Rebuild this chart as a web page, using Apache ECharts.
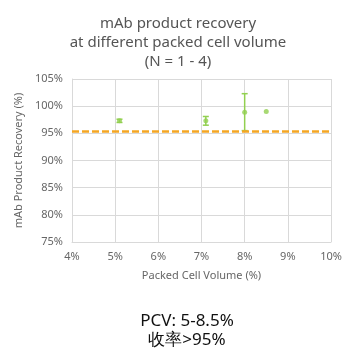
<!DOCTYPE html>
<html><head><meta charset="utf-8">
<script src="https://cdn.jsdelivr.net/npm/echarts@6/dist/echarts.min.js"></script>
<style>html,body{margin:0;padding:0;background:#fff}#c{width:356px;height:357px}</style>
</head><body><div id="c"></div>
<script>
const titleLines = ['mAb product recovery', 'at different packed cell volume', '(N = 1 - 4)'];
const pcv = [5.1, 7.1, 8.0, 8.5];
const recovery = [97.3, 97.3, 98.9, 99.0];
const errPlusMinus = [0.3, 0.8, 3.4, 0];
const threshold = 95.3;
const xTicks = [4, 5, 6, 7, 8, 9, 10];
const yTicks = [75, 80, 85, 90, 95, 100, 105];
const note = ['PCV: 5-8.5%', '收率>95%'];

const green = '#92d050';
const chart = echarts.init(document.getElementById('c'), null, {renderer: 'canvas'});
const pts = pcv.map((x, i) => [x, recovery[i]]);
const errs = pcv.map((x, i) => [x, recovery[i] - errPlusMinus[i], recovery[i] + errPlusMinus[i]]);
chart.setOption({
  animation: false,
  title: [{
    text: titleLines.join('\n'), left: 'center', top: 9,
    textStyle: {fontFamily: 'Noto Sans', fontSize: 15, fontWeight: 'normal', color: '#555', lineHeight: 19}
  }, {
    text: note.join('\n'), left: 182, textAlign: 'center', top: 307,
    textStyle: {fontFamily: 'Noto Sans', fontSize: 17, fontWeight: 'normal', color: '#111', lineHeight: 19}
  }],
  grid: {left: 72, right: 25, top: 79, bottom: 115},
  xAxis: {
    type: 'value', min: xTicks[0], max: xTicks[xTicks.length - 1], interval: 1,
    name: 'Packed Cell Volume (%)', nameLocation: 'middle', nameGap: 28,
    nameTextStyle: {fontFamily: 'Noto Sans', fontSize: 11, color: '#666'},
    axisLine: {show: true, lineStyle: {color: '#d9d9d9'}}, axisTick: {show: false},
    axisLabel: {fontFamily: 'Noto Sans', fontSize: 11, color: '#666', margin: 9, formatter: v => v + '%'},
    splitLine: {show: true, lineStyle: {color: '#d9d9d9'}}
  },
  yAxis: {
    type: 'value', min: yTicks[0], max: yTicks[yTicks.length - 1], interval: 5,
    name: 'mAb Product Recovery (%)', nameLocation: 'middle', nameGap: 38,
    nameTextStyle: {fontFamily: 'Noto Sans', fontSize: 11, color: '#666'},
    axisLine: {show: true, lineStyle: {color: '#d9d9d9'}}, axisTick: {show: false},
    axisLabel: {fontFamily: 'Noto Sans', fontSize: 11, color: '#666', margin: 9, formatter: v => v + '%'},
    splitLine: {show: true, lineStyle: {color: '#d9d9d9'}}
  },
  series: [{
    type: 'custom',
    data: errs,
    renderItem: (params, api) => {
      const x = api.value(0), lo = api.value(1), hi = api.value(2);
      if (hi - lo < 1e-9) return null;
      const p1 = api.coord([x, hi]), p2 = api.coord([x, lo]);
      const w = 3;
      const style = {stroke: green, lineWidth: 1.5};
      return {type: 'group', children: [
        {type: 'line', shape: {x1: p1[0], y1: p1[1], x2: p2[0], y2: p2[1]}, style},
        {type: 'line', shape: {x1: p1[0] - w, y1: p1[1], x2: p1[0] + w, y2: p1[1]}, style},
        {type: 'line', shape: {x1: p2[0] - w, y1: p2[1], x2: p2[0] + w, y2: p2[1]}, style}
      ]};
    },
    z: 3
  }, {
    type: 'scatter', data: pts, symbolSize: 5, itemStyle: {color: green}, z: 4,
    markLine: {
      silent: true, symbol: 'none', label: {show: false},
      lineStyle: {color: '#f5a623', type: [7, 3], width: 2.5},
      data: [{yAxis: threshold}]
    }
  }]
});
</script></body></html>
